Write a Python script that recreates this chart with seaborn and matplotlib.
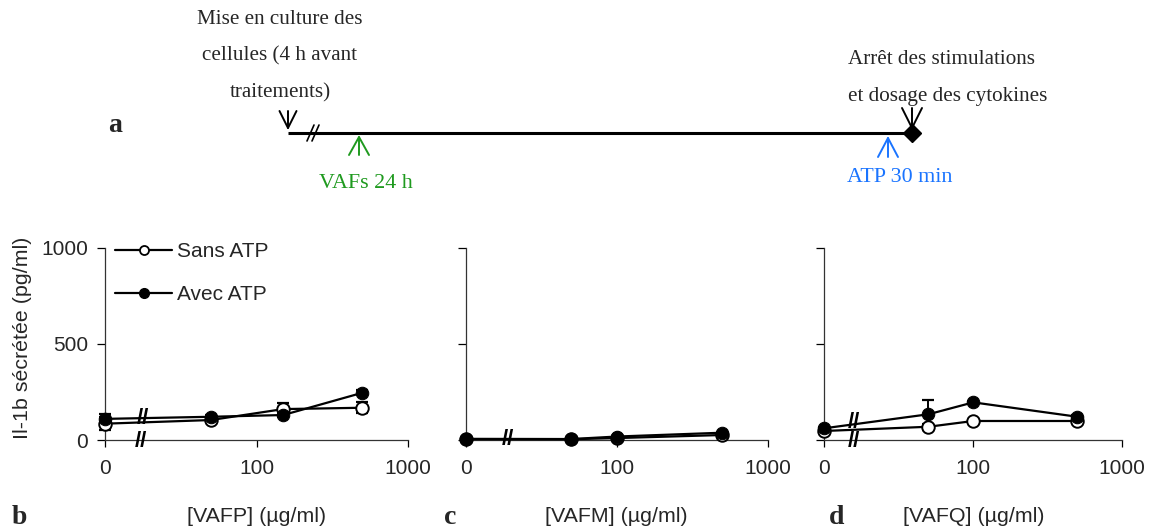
import numpy as np
import pandas as pd
import matplotlib
matplotlib.use("Agg")
import matplotlib.pyplot as plt
from matplotlib.lines import Line2D
import seaborn as sns

# ---------------- data ----------------
conc_b = [0, 50, 150, 500]
conc_c = [0, 50, 100, 500]
conc_d = [0, 50, 100, 500]

sans_b = [85, 104, 161, 168]
sans_b_err = [33, 8, 31, 29]
avec_b = [110, 121, 130, 246]
avec_b_err = [24, 8, 10, 14]

sans_c = [4, 4, 10, 26]
sans_c_err = [2, 2, 3, 5]
avec_c = [6, 5, 18, 38]
avec_c_err = [2, 2, 4, 6]

sans_d = [47, 69, 99, 99]
sans_d_err = [5, 15, 5, 5]
avec_d = [61, 134, 196, 121]
avec_d_err = [5, 74, 9, 8]

x_labels = ["[VAFP] (µg/ml)", "[VAFM] (µg/ml)", "[VAFQ] (µg/ml)"]
panel_letters = ["b", "c", "d"]
series_names = ["Sans ATP", "Avec ATP"]
xtick_vals = [0, 100, 1000]
ytick_vals = [0, 500, 1000]
ZERO_POS = 10  # position on the log axis where the concentration 0 is drawn

# ---------------- style ----------------
sns.set_theme(style="white")
plt.rcParams['font.family'] = ['Liberation Sans', 'DejaVu Sans']
SERIF = ['Liberation Serif', 'DejaVu Serif']

W, H = 1152, 529
fig = plt.figure(figsize=(W / 100, H / 100), dpi=100)

# ---------------- timeline (panel a) ----------------
tl = fig.add_axes([0, 0, 1, 1], zorder=0)
tl.set_xlim(0, W)
tl.set_ylim(H, 0)
tl.axis('off')
tl.patch.set_visible(False)

line_start, line_end, line_y = 288, 912, 133
tl.plot([line_start, line_end], [line_y, line_y], color='black', lw=2.2,
        solid_capstyle='butt')
tl.plot([line_end], [line_y], marker='D', color='black', ms=9)
for dx in (0, 5):
    tl.plot([307 + dx, 314 + dx], [141, 125], color='black', lw=1.2)


def arrow(x, tip, tail, half, color):
    tl.plot([x, x], [tip, tail], color=color, lw=1.4)
    tl.plot([x - half, x, x + half], [tail, tip, tail], color=color, lw=1.4)


arrow(288, 128, 111, 8.5, 'black')
arrow(912, 128, 108, 10, 'black')
green = '#1f9a1f'
blue = '#1a74ff'
arrow(359, 137, 155, 10, green)
arrow(888, 138, 157, 10, blue)

FS_TOP = 15.2
tl.text(280, 19, "Mise en culture des", family=SERIF, fontsize=FS_TOP,
        ha='center', va='center')
tl.text(280, 56, "cellules (4 h avant", family=SERIF, fontsize=FS_TOP,
        ha='center', va='center')
tl.text(280, 93, "traitements)", family=SERIF, fontsize=FS_TOP,
        ha='center', va='center')
tl.text(848, 60, "Arrêt des stimulations", family=SERIF, fontsize=FS_TOP,
        ha='left', va='center')
tl.text(848, 97, "et dosage des cytokines", family=SERIF, fontsize=FS_TOP,
        ha='left', va='center')
tl.text(366, 183, "VAFs 24 h", family=SERIF, fontsize=15.8, color=green,
        ha='center', va='center')
tl.text(900, 178, "ATP 30 min", family=SERIF, fontsize=15.8, color=blue,
        ha='center', va='center')
tl.text(115, 126, "a", family=SERIF, fontsize=20, fontweight='bold',
        ha='center', va='center')

# ---------------- panels b, c, d ----------------
panels = [
    (conc_b, sans_b, sans_b_err, avec_b, avec_b_err),
    (conc_c, sans_c, sans_c_err, avec_c, avec_c_err),
    (conc_d, sans_d, sans_d_err, avec_d, avec_d_err),
]
ax_left_px = [105, 465.7, 824.3]
ax_right_px = [408, 767.7, 1122.3]
ax_top_px, ax_bot_px = 248, 440
letter_px = [19, 450, 837]

# break marks: (x on log axis, y in data units)
break_marks = [
    [(10 ** 1.25, 110), (10 ** 1.24, -8)],
    [(10 ** 1.28, 2)],
    [(10 ** 1.2, 92), (10 ** 1.2, -8)],
]

for i, (conc, s, se, a, ae) in enumerate(panels):
    l = ax_left_px[i] / W
    w = (ax_right_px[i] - ax_left_px[i]) / W
    b = 1 - ax_bot_px / H
    h = (ax_bot_px - ax_top_px) / H
    ax = fig.add_axes([l, b, w, h], zorder=2)
    ax.patch.set_visible(False)
    pos = [ZERO_POS if c == 0 else c for c in conc]
    df = pd.DataFrame({
        'pos': pos * 2,
        'val': s + a,
        'err': se + ae,
        'serie': [series_names[0]] * len(s) + [series_names[1]] * len(a),
    })
    for name in series_names:
        d = df[df.serie == name]
        eb = ax.errorbar(d['pos'], d['val'], yerr=d['err'], fmt='none',
                         ecolor='black', elinewidth=1.4, capsize=4.5,
                         capthick=1.6, zorder=2)
        for art in eb.get_children():
            art.set_clip_on(False)
    sns.lineplot(data=df, x='pos', y='val', hue='serie', style='serie',
                 hue_order=series_names, style_order=series_names,
                 palette=['black', 'black'], dashes=False,
                 markers={series_names[0]: 'o', series_names[1]: 'o'},
                 markersize=9, linewidth=1.6, ax=ax, legend=False,
                 zorder=3)
    sns_lines = [ln for ln in ax.get_lines() if len(ln.get_xdata()) == len(conc)]
    if len(sns_lines) >= 2:
        op, fi = sns_lines[-2], sns_lines[-1]
        op.set_markerfacecolor('white')
        op.set_markeredgecolor('black')
        op.set_markeredgewidth(1.4)
        fi.set_markerfacecolor('black')
        fi.set_markeredgecolor('black')
        op.set_zorder(3)
        fi.set_zorder(4)
        op.set_clip_on(False)
        fi.set_clip_on(False)

    ax.set_xscale('log')
    ax.set_xlim(ZERO_POS, 1000)
    ax.set_ylim(0, 1000)
    ax.set_xticks([ZERO_POS if v == 0 else v for v in xtick_vals])
    ax.set_xticklabels([str(v) for v in xtick_vals])
    ax.xaxis.set_minor_locator(matplotlib.ticker.NullLocator())
    ax.set_yticks(ytick_vals)
    if i == 0:
        ax.set_yticklabels([str(v) for v in ytick_vals])
    else:
        ax.set_yticklabels([])
    ax.tick_params(axis='x', direction='out', length=5, width=0.9,
                   color='black', pad=9, labelsize=15, bottom=True)
    ax.tick_params(axis='y', direction='out', length=6, width=0.9,
                   color='black', pad=6, labelsize=15, left=True)
    for sp in ['top', 'right']:
        ax.spines[sp].set_visible(False)
    for sp in ['left', 'bottom']:
        ax.spines[sp].set_color('#333333')
        ax.spines[sp].set_linewidth(0.9)

    ax.set_xlabel(x_labels[i], fontsize=15.4)
    ax.xaxis.label.set_va('center')
    ax.xaxis.set_label_coords(0.5, (ax_bot_px - 517) / (ax_bot_px - ax_top_px))
    if i == 0:
        ax.set_ylabel("Il-1b sécrétée (pg/ml)", fontsize=15.4)
        ax.yaxis.label.set_va('center')
        ax.yaxis.set_label_coords((22 - ax_left_px[0]) / (ax_right_px[0] - ax_left_px[0]),
                                  (ax_bot_px - 338) / (ax_bot_px - ax_top_px))
    else:
        ax.set_ylabel("")

    for (bx, by) in break_marks[i]:
        ax.text(bx, by, "//", fontsize=16, ha='center', va='center',
                color='black', zorder=5, fontweight='bold', clip_on=False)

    fig.text(letter_px[i] / W, 1 - 517 / H, panel_letters[i], family=SERIF,
             fontsize=20, fontweight='bold', ha='center', va='center')

    if i == 0:
        handles = [
            Line2D([], [], color='black', lw=1.6, marker='o', ms=6.5,
                   mfc='white', mec='black', mew=1.3),
            Line2D([], [], color='black', lw=1.6, marker='o', ms=7,
                   mfc='black', mec='black'),
        ]
        ax.legend(handles, series_names, loc='upper left',
                  bbox_to_anchor=(0.033, 1.03), frameon=False, fontsize=15,
                  handlelength=2.75, handletextpad=0.25, labelspacing=1.15,
                  borderpad=0, borderaxespad=0)

fig.savefig("out.png", dpi=100)
